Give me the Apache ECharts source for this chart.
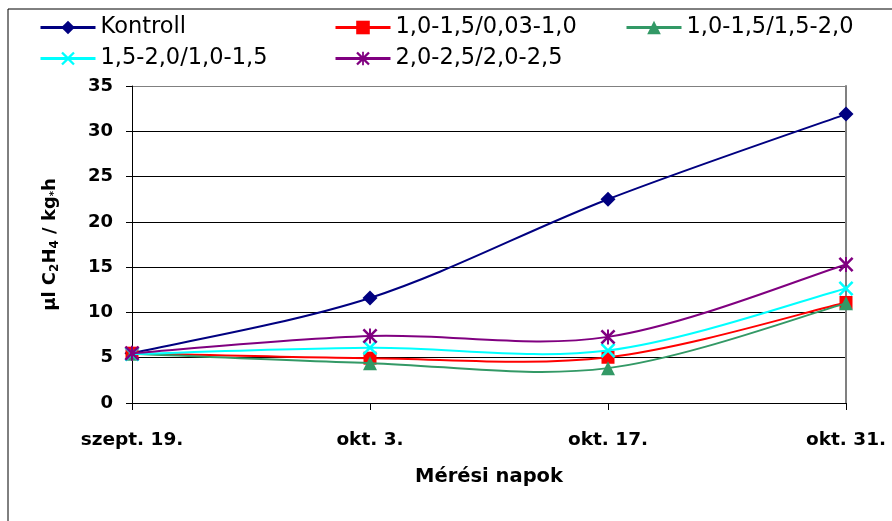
<!DOCTYPE html>
<html>
<head>
<meta charset="utf-8">
<script src="https://cdn.jsdelivr.net/npm/echarts@6/dist/echarts.min.js"></script>
<style>html,body{margin:0;padding:0;background:#fff}#c{width:892px;height:521px}</style>
</head>
<body>
<div id="c"></div>
<script>
const categories = ['szept. 19.', 'okt. 3.', 'okt. 17.', 'okt. 31.'];
const seriesNames = ['Kontroll', '1,0-1,5/0,03-1,0', '1,0-1,5/1,5-2,0', '1,5-2,0/1,0-1,5', '2,0-2,5/2,0-2,5'];
const kontroll = [5.5, 11.6, 22.5, 31.9];
const s1 = [5.5, 4.95, 5.05, 11.1];
const s2 = [5.45, 4.4, 3.85, 11.0];
const s3 = [5.4, 6.1, 5.8, 12.65];
const s4 = [5.5, 7.4, 7.3, 15.3];
const yTicks = [0, 5, 10, 15, 20, 25, 30, 35];

const FONT = '"DejaVu Sans", "Liberation Sans", Arial, sans-serif';
const xPath = 'path://M0,1.2L1.2,0L5,3.8L8.8,0L10,1.2L6.2,5L10,8.8L8.8,10L5,6.2L1.2,10L0,8.8L3.8,5Z';
const starPath = 'path://M0,1.2L1.2,0L5,3.8L8.8,0L10,1.2L6.2,5L10,8.8L8.8,10L5,6.2L1.2,10L0,8.8L3.8,5Z M4.35,0L5.65,0L5.65,10L4.35,10Z';

const styles = [
  {color: '#000080', symbol: 'diamond', size: 15, data: kontroll},
  {color: '#FF0000', symbol: 'rect', size: 13, data: s1},
  {color: '#339966', symbol: 'triangle', size: 14, data: s2},
  {color: '#00FFFF', symbol: xPath, size: 15, data: s3},
  {color: '#800080', symbol: starPath, size: 15, data: s4}
];

const legendPos = [
  {left: 34, top: 11}, {left: 329, top: 11}, {left: 620, top: 11},
  {left: 34, top: 42}, {left: 329, top: 42}
];

// Smooth curve (Catmull-Rom style Bezier like spreadsheet smoothing), drawn through the axes' scales
function curveSeries(values, color, z) {
  return {
    type: 'custom', name: '_curve' + z, coordinateSystem: 'cartesian2d',
    data: values.map((v, i) => [i, v]), encode: {x: 0, y: 1}, z: z, silent: true,
    renderItem: function (params, api) {
      if (params.dataIndex !== 0) return null;
      const pts = values.map((v, i) => api.coord([i, v]));
      const children = [];
      const t = 1 / 6;
      for (let i = 0; i < pts.length - 1; i++) {
        const p0 = pts[Math.max(i - 1, 0)], p1 = pts[i], p2 = pts[i + 1], p3 = pts[Math.min(i + 2, pts.length - 1)];
        children.push({
          type: 'bezierCurve',
          shape: {
            x1: p1[0], y1: p1[1], x2: p2[0], y2: p2[1],
            cpx1: p1[0] + (p2[0] - p0[0]) * t, cpy1: p1[1] + (p2[1] - p0[1]) * t,
            cpx2: p2[0] - (p3[0] - p1[0]) * t, cpy2: p2[1] - (p3[1] - p1[1]) * t
          },
          style: {stroke: color, lineWidth: 2, fill: 'none'}
        });
      }
      return {type: 'group', children: children};
    }
  };
}

const chart = echarts.init(document.getElementById('c'), null, {renderer: 'canvas'});
const series = [];
styles.forEach((s, i) => {
  series.push({
    name: seriesNames[i], type: 'line', data: s.data,
    symbol: s.symbol, symbolSize: s.size, showSymbol: true,
    lineStyle: {color: s.color, width: 2, opacity: 0},
    itemStyle: {color: s.color, borderWidth: 0},
    z: 3 + 2 * i
  });
  series.push(curveSeries(s.data, s.color, 2 + 2 * i));
});

const option = {
  backgroundColor: '#fff',
  animation: false,
  textStyle: {fontFamily: FONT},
  legend: seriesNames.map((n, i) => ({
    data: [n], left: legendPos[i].left, top: legendPos[i].top,
    itemWidth: 55, itemHeight: 17, itemGap: 0,
    lineStyle: {opacity: 1, width: 3},
    textStyle: {fontFamily: FONT, fontSize: 22.5, color: '#000'}
  })),
  grid: {left: 132, right: 46, top: 86, bottom: 118},
  xAxis: {
    type: 'category', data: categories, boundaryGap: false,
    axisLine: {lineStyle: {color: '#000', width: 1}},
    axisTick: {show: true, length: 7, lineStyle: {color: '#000'}},
    axisLabel: {fontFamily: FONT, fontSize: 18.5, fontWeight: 'bold', color: '#000', margin: 28},
    name: 'Mérési napok', nameLocation: 'middle', nameGap: 64,
    nameTextStyle: {fontFamily: FONT, fontSize: 19.5, fontWeight: 'bold', color: '#000'}
  },
  yAxis: [{
    type: 'value', min: yTicks[0], max: yTicks[yTicks.length - 1], interval: 5,
    axisLine: {show: true, lineStyle: {color: '#000', width: 1}},
    axisTick: {show: true, length: 6, lineStyle: {color: '#000'}},
    axisLabel: {fontFamily: FONT, fontSize: 18, fontWeight: 'bold', color: '#000', margin: 19},
    splitLine: {show: true, lineStyle: {color: ['#000', '#000', '#000', '#000', '#000', '#000', '#000', '#808080'], width: 1}},
    name: 'µl C{s|2}H{s|4} / kg{m|*}h', nameLocation: 'middle', nameGap: 71,
    nameTextStyle: {
      fontFamily: FONT, fontSize: 18, fontWeight: 'bold', color: '#000',
      rich: {
        s: {fontFamily: FONT, fontSize: 12, fontWeight: 'bold', color: '#000', verticalAlign: 'bottom', padding: [9, 0, 0, 0]},
        m: {fontFamily: FONT, fontSize: 10, fontWeight: 'bold', color: '#000', padding: [7, 0, 0, 0]}
      }
    }
  }, {
    type: 'value', min: yTicks[0], max: yTicks[yTicks.length - 1], interval: 5, position: 'right',
    axisLine: {show: true, lineStyle: {color: '#808080', width: 2}},
    axisTick: {show: false}, axisLabel: {show: false}, splitLine: {show: false}
  }],
  graphic: [
    {type: 'line', shape: {x1: 8, y1: 9, x2: 8, y2: 521}, style: {stroke: '#000', lineWidth: 1}, silent: true},
    {type: 'line', shape: {x1: 8, y1: 9, x2: 892, y2: 9}, style: {stroke: '#000', lineWidth: 1}, silent: true}
  ],
  series: series
};
chart.setOption(option);
</script>
</body>
</html>
